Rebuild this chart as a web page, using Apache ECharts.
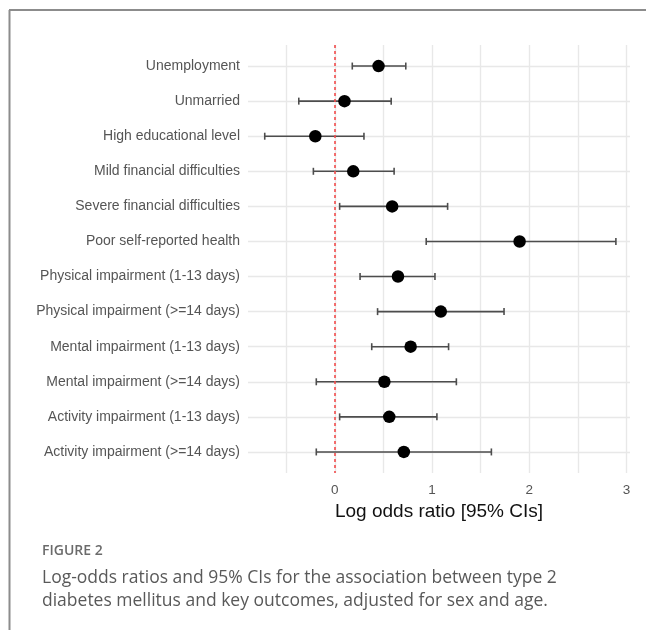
<!DOCTYPE html>
<html>
<head>
<meta charset="utf-8">
<script src="https://cdn.jsdelivr.net/npm/echarts@6/dist/echarts.min.js"></script>
<style>
  html, body { margin: 0; padding: 0; background: #fff; }
  #chart { width: 646px; height: 630px; }
</style>
</head>
<body>
<div id="chart"></div>
<script>
// outcomes, top to bottom
const categories = [
  'Unemployment',
  'Unmarried',
  'High educational level',
  'Mild financial difficulties',
  'Severe financial difficulties',
  'Poor self-reported health',
  'Physical impairment (1-13 days)',
  'Physical impairment (>=14 days)',
  'Mental impairment (1-13 days)',
  'Mental impairment (>=14 days)',
  'Activity impairment (1-13 days)',
  'Activity impairment (>=14 days)'
]
const estimates = [0.45, 0.10, -0.20, 0.19, 0.59, 1.90, 0.65, 1.09, 0.78, 0.51, 0.56, 0.71]
const lowerCI = [0.18, -0.37, -0.72, -0.22, 0.05, 0.94, 0.26, 0.44, 0.38, -0.19, 0.05, -0.19]
const upperCI = [0.73, 0.58, 0.30, 0.61, 1.16, 2.89, 1.03, 1.74, 1.17, 1.25, 1.05, 1.61]
const xTicks = [0, 1, 2, 3]
const xMinorTicks = [-0.5, 0.5, 1.5, 2.5]

const chart = echarts.init(document.getElementById('chart'))

const rowPos = categories.map((c, i) => i + 1)
const pointData = estimates.map((v, i) => [v, rowPos[i]])
const barData = rowPos.map((p, i) => [p, lowerCI[i], upperCI[i]])

const gridLines = []
xTicks.concat(xMinorTicks).forEach(v => gridLines.push({ xAxis: v }))
rowPos.forEach(p => gridLines.push({ yAxis: p }))

chart.setOption({
  animation: false,
  grid: {
    left: 248,
    right: 16,
    top: 45,
    bottom: 157
  },
  xAxis: {
    type: 'value',
    min: -0.892,
    max: 3.035,
    minInterval: 1,
    maxInterval: 1,
    axisLine: { show: false },
    axisTick: { show: false },
    splitLine: { show: false },
    axisLabel: {
      margin: 10,
      color: '#555',
      fontSize: 13.5,
      fontFamily: 'Liberation Sans, Arial, sans-serif',
      formatter: v => xTicks.includes(v) ? String(v) : ''
    },
    name: 'Log odds ratio [95% CIs]',
    nameLocation: 'middle',
    nameGap: 28,
    nameTextStyle: {
      color: '#111',
      fontSize: 19,
      fontFamily: 'Liberation Sans, Arial, sans-serif'
    }
  },
  yAxis: {
    type: 'value',
    inverse: true,
    min: 0.4,
    max: 12.6,
    minInterval: 1,
    maxInterval: 1,
    axisLine: { show: false },
    axisTick: { show: false },
    splitLine: { show: false },
    axisLabel: {
      margin: 8,
      color: '#555',
      fontSize: 14,
      fontFamily: 'Liberation Sans, Arial, sans-serif',
      formatter: v => (Number.isInteger(v) && v >= 1 && v <= categories.length) ? categories[v - 1] : ''
    }
  },
  graphic: [
    {
      type: 'line',
      shape: { x1: 9, y1: 10, x2: 646, y2: 10 },
      style: { stroke: '#8c8c8c', lineWidth: 2 }
    },
    {
      type: 'line',
      shape: { x1: 9.5, y1: 10, x2: 9.5, y2: 630 },
      style: { stroke: '#8c8c8c', lineWidth: 2 }
    },
    {
      type: 'text',
      style: {
        x: 42, y: 551, text: 'FIGURE 2', verticalAlign: 'middle',
        font: '600 14px "Open Sans", sans-serif', fill: '#6b6b6b'
      }
    },
    {
      type: 'text',
      style: {
        x: 42, y: 578, text: 'Log-odds ratios and 95% CIs for the association between type 2',
        verticalAlign: 'middle', font: '17.5px "Open Sans", sans-serif', fill: '#595959'
      }
    },
    {
      type: 'text',
      style: {
        x: 42, y: 601, text: 'diabetes mellitus and key outcomes, adjusted for sex and age.',
        verticalAlign: 'middle', font: '17.5px "Open Sans", sans-serif', fill: '#595959'
      }
    }
  ],
  series: [
    {
      // panel grid lines
      type: 'line',
      data: [],
      silent: true,
      markLine: {
        z: 1,
        silent: true,
        symbol: ['none', 'none'],
        label: { show: false },
        lineStyle: { color: '#e8e8e8', width: 1.4, type: 'solid' },
        data: gridLines
      }
    },
    {
      type: 'custom',
      z: 2,
      data: barData,
      encode: { y: 0, x: [1, 2] },
      renderItem(params, api) {
        const lo = api.coord([api.value(1), api.value(0)])
        const hi = api.coord([api.value(2), api.value(0)])
        const cap = 3.5
        const style = { stroke: '#4d4d4d', lineWidth: 1.6 }
        return {
          type: 'group',
          children: [
            { type: 'line', shape: { x1: lo[0], y1: lo[1], x2: hi[0], y2: hi[1] }, style },
            { type: 'line', shape: { x1: lo[0], y1: lo[1] - cap, x2: lo[0], y2: lo[1] + cap }, style },
            { type: 'line', shape: { x1: hi[0], y1: hi[1] - cap, x2: hi[0], y2: hi[1] + cap }, style }
          ]
        }
      }
    },
    {
      // reference line at zero
      type: 'line',
      data: [],
      silent: true,
      markLine: {
        z: 3,
        silent: true,
        symbol: ['none', 'none'],
        label: { show: false },
        lineStyle: { color: '#f24c4c', width: 1.6, type: [3, 3] },
        data: [{ xAxis: 0 }]
      }
    },
    {
      type: 'scatter',
      z: 4,
      data: pointData,
      symbol: 'circle',
      symbolSize: 12.5,
      itemStyle: { color: '#000', opacity: 1 }
    }
  ]
})
</script>
</body>
</html>
